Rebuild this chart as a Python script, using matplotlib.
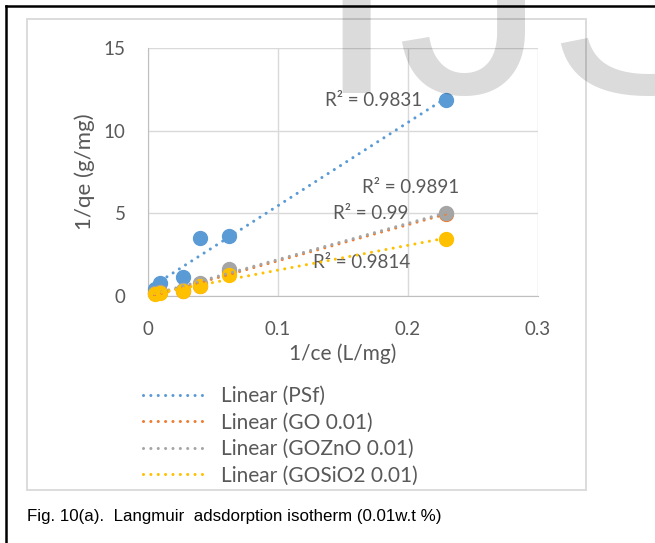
import numpy as np
import matplotlib
matplotlib.use('Agg')
import matplotlib.pyplot as plt
from matplotlib.lines import Line2D
from matplotlib.patches import Rectangle

# Langmuir linearisation: 1/qe against 1/ce for each membrane
inv_ce = [0.005, 0.009, 0.027, 0.040, 0.0625, 0.229]
psf = [0.40, 0.80, 1.15, 3.50, 3.62, 11.85]
go = [0.18, 0.22, 0.32, 0.62, 1.50, 4.95]
gozno = [0.20, 0.25, 0.35, 0.80, 1.65, 5.00]
gosio2 = [0.12, 0.20, 0.28, 0.62, 1.30, 3.45]

series_names = ['PSf', 'GO 0.01', 'GOZnO 0.01', 'GOSiO2 0.01']
r2_labels = ['R² = 0.9831', 'R² = 0.99', 'R² = 0.9891', 'R² = 0.9814']
colors = ['#5B9BD5', '#ED7D31', '#A5A5A5', '#FFC000']

plt.rcParams['font.family'] = ['Lato', 'DejaVu Sans']

fig = plt.figure(figsize=(6.55, 5.43), dpi=100)

# page frame and chart border
fig.add_artist(Line2D([6 / 655, 6 / 655], [0, 1 - 6 / 543], color='black', lw=1.8))
fig.add_artist(Line2D([6 / 655, 1], [1 - 6 / 543, 1 - 6 / 543], color='black', lw=1.8))
fig.add_artist(Rectangle((27 / 655, 1 - 490 / 543), (586 - 27) / 655, (490 - 19) / 543,
                         fill=False, edgecolor='#d9d9d9', lw=1.3))

ax = fig.add_axes([148 / 655, 1 - 296 / 543, 390 / 655, 248 / 543])

all_y = [psf, go, gozno, gosio2]
x = np.array(inv_ce)
for y, c in zip(all_y, colors):
    ax.plot(x, y, 'o', color=c, markersize=10, zorder=3, clip_on=False)

for y, c, name in zip(all_y, colors, series_names):
    k, b = np.polyfit(x, y, 1)
    xx = np.array([x.min(), x.max()])
    ax.plot(xx, k * xx + b, color=c, lw=2.2, linestyle=(0, (0.01, 2.4)),
            dash_capstyle='round', zorder=4, label='Linear (%s)' % name)

txt = dict(color='#595959', fontsize=13.5, va='center', zorder=2)
ax.text(0.2108, 11.84, r2_labels[0], ha='right', **txt)
ax.text(0.1646, 6.59, r2_labels[2], ha='left', **txt)
ax.text(0.1423, 5.01, r2_labels[1], ha='left', **txt)
ax.text(0.1270, 2.05, r2_labels[3], ha='left', **txt)

ax.set_xlim(0, 0.3)
ax.set_ylim(0, 15)
ax.set_xticks([0, 0.1, 0.2, 0.3])
ax.set_xticklabels(['0', '0.1', '0.2', '0.3'])
ax.set_yticks([0, 5, 10, 15])
ax.grid(True, color='#d9d9d9', lw=1)
ax.set_axisbelow(True)
for s in ['top', 'right']:
    ax.spines[s].set_visible(False)
for s in ['left', 'bottom']:
    ax.spines[s].set_color('#bfbfbf')
ax.tick_params(length=0, labelsize=13.5, labelcolor='#595959')
ax.tick_params(axis='x', pad=18)
ax.tick_params(axis='y', pad=16)
ax.set_xlabel('1/ce (L/mg)', fontsize=15, color='#595959', labelpad=4)
ax.set_ylabel('1/qe (g/mg)', fontsize=16, color='#595959', labelpad=6)

handles, labels = ax.get_legend_handles_labels()
fig.legend(handles, labels, loc='upper left', bbox_to_anchor=(143 / 655, 1 - 386 / 543),
           frameon=False, fontsize=15, labelcolor='#595959', handlelength=3.1,
           handletextpad=0.65, labelspacing=0.31, borderaxespad=0, borderpad=0)

fig.text(27 / 655, 1 - 516 / 543, 'Fig. 10(a).  Langmuir  adsdorption isotherm (0.01w.t %)',
         family='Liberation Sans', fontsize=12.2, color='black', va='center', ha='left')

# journal watermark
fig.text(314 / 655, 1 - 93 / 543, 'IJSER', family='Liberation Sans', fontsize=216,
         color='black', alpha=0.14, ha='left', va='baseline', zorder=10)

fig.savefig('out.png', dpi=100)
